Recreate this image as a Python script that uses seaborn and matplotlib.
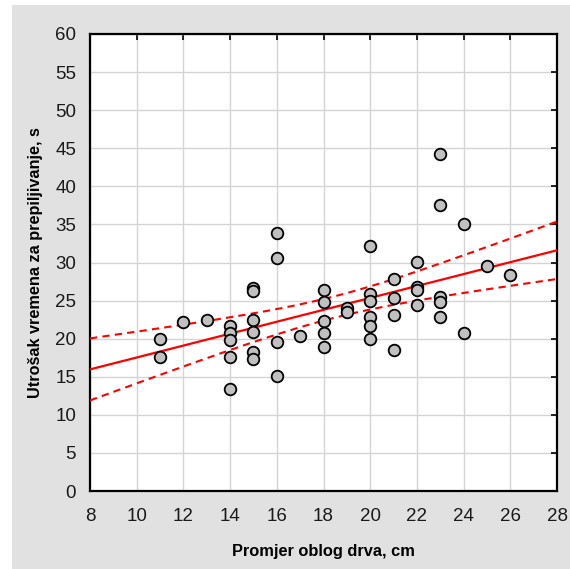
import numpy as np
import pandas as pd
import matplotlib
matplotlib.use("Agg")
import matplotlib.pyplot as plt
import seaborn as sns
from matplotlib.patches import Rectangle

diameter = [11, 11, 12, 13,
            14, 14, 14, 14, 14,
            15, 15, 15, 15, 15, 15,
            16, 16, 16, 16, 17,
            18, 18, 18, 18, 18,
            19, 19,
            20, 20, 20, 20, 20, 20,
            21, 21, 21, 21,
            22, 22, 22, 22,
            23, 23, 23, 23, 23,
            24, 24, 25, 26]
time_s = [19.9, 17.6, 22.2, 22.5,
          21.7, 20.8, 19.8, 17.6, 13.4,
          26.6, 26.2, 22.5, 20.9, 18.3, 17.3,
          33.9, 30.6, 19.6, 15.1, 20.3,
          26.4, 24.8, 22.3, 20.8, 18.9,
          24.0, 23.5,
          32.2, 25.9, 25.0, 22.9, 21.7, 20.0,
          27.8, 25.4, 23.1, 18.5,
          30.1, 26.8, 26.4, 24.4,
          44.2, 37.6, 25.5, 24.8, 22.9,
          35.1, 20.8, 29.5, 28.4]

x_ticks = list(range(8, 29, 2))
y_ticks = list(range(0, 61, 5))

df = pd.DataFrame({"d": diameter, "t": time_s})

sns.set_style("white")
plt.rcParams['font.family'] = ['Liberation Sans', 'DejaVu Sans']

fig = plt.figure(figsize=(5.70, 5.69), dpi=100, facecolor="#e1e1e1")
fig.add_artist(Rectangle((0, 0), 12/570, 1, transform=fig.transFigure,
                         facecolor="white", edgecolor="none", zorder=-5))
fig.add_artist(Rectangle((0, 1-5/569), 1, 5/569, transform=fig.transFigure,
                         facecolor="white", edgecolor="none", zorder=-5))
ax = fig.add_axes([90/570, 1-491/569, (557-90)/570, (491-34)/569])
ax.set_facecolor("white")

# regression and 95% confidence band of the mean
xa = np.asarray(diameter, float)
ya = np.asarray(time_s, float)
n = len(xa)
b1, b0 = np.polyfit(xa, ya, 1)
resid = ya - (b0 + b1 * xa)
s = np.sqrt(np.sum(resid**2) / (n - 2))
sxx = np.sum((xa - xa.mean())**2)
xs = np.linspace(8, 28, 200)
yhat = b0 + b1 * xs
tval = 2.0106
half = tval * s * np.sqrt(1/n + (xs - xa.mean())**2 / sxx)
fit = pd.DataFrame({"x": xs, "y": yhat, "lo": yhat - half, "hi": yhat + half})

sns.lineplot(data=fit, x="x", y="y", ax=ax, color="red", lw=1.6, zorder=3)
sns.lineplot(data=fit, x="x", y="lo", ax=ax, color="red", lw=1.5,
             linestyle=(0, (3.5, 2.5)), zorder=3)
sns.lineplot(data=fit, x="x", y="hi", ax=ax, color="red", lw=1.5,
             linestyle=(0, (3.5, 2.5)), zorder=3)

sns.scatterplot(data=df, x="d", y="t", ax=ax, s=70, color="#c0c0c0",
                edgecolor="black", linewidth=1.3, zorder=4)

ax.set_xlim(8, 28)
ax.set_ylim(0, 60)
ax.set_xticks(x_ticks)
ax.set_yticks(y_ticks)
ax.grid(True, color="#d4d4d4", lw=1.0)
ax.set_axisbelow(True)
for sp in ax.spines.values():
    sp.set_visible(True)
    sp.set_color("black")
    sp.set_linewidth(1.6)
ax.tick_params(direction="in", length=4, width=1.2, colors="black",
               top=True, right=True)
ax.tick_params(axis="x", pad=12)
ax.tick_params(axis="y", pad=10)
for lab in ax.get_xticklabels() + ax.get_yticklabels():
    lab.set_color("#1a1a1a")
    lab.set_fontsize(13.5)

ax.set_xlabel("Promjer oblog drva, cm", fontsize=11.8, fontweight="bold",
              labelpad=14, color="black")
ax.set_ylabel("Utrošak vremena za prepiljivanje, s", fontsize=11.7,
              fontweight="bold", color="black")
ax.yaxis.set_label_coords((43 - 90) / (557 - 90), 0.5)

fig.savefig("out.png", dpi=100, facecolor=fig.get_facecolor())
